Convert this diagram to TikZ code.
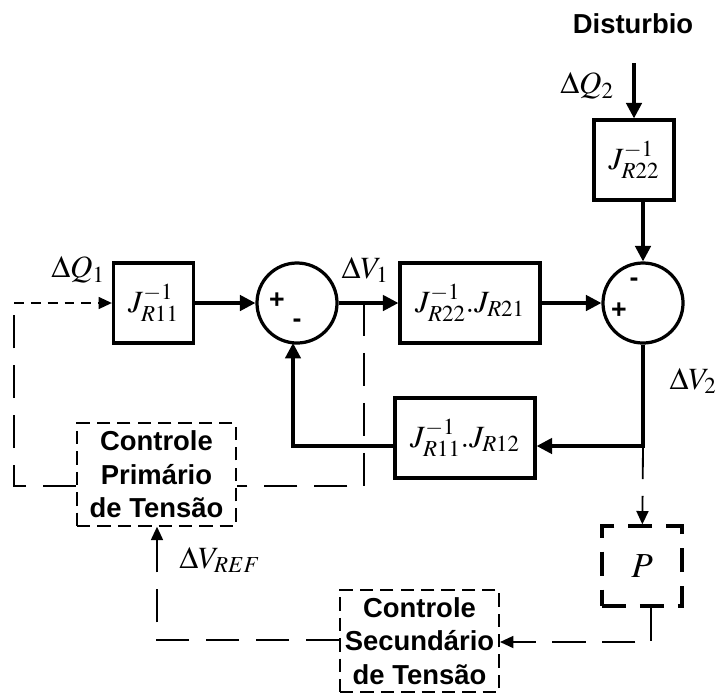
\documentclass[tikz,border=0pt]{standalone}
\usepackage{mathptmx}
\usepackage{fontspec}
\setsansfont{Liberation Sans}
\usetikzlibrary{arrows.meta}
\newcommand{\lblfont}{\fontsize{22}{26}\selectfont}
\newcommand{\pfont}{\fontsize{25}{29}\selectfont}
\newcommand{\ctrlfont}{\fontsize{19.5}{23.8}\selectfont\sffamily\bfseries}
\newcommand{\signfont}{\fontsize{19}{21}\selectfont\sffamily\bfseries}
\tikzset{
  blk/.style={draw, line width=2.3pt, minimum width=2cm, minimum height=2cm, inner sep=0pt, font=\lblfont},
  summ/.style={circle, draw, line width=2.3pt, minimum size=2cm, inner sep=0pt},
  ctrl/.style={draw, line width=1.4pt, dash pattern=on 9.5pt off 5pt, minimum width=3.975cm, minimum height=2.56cm, inner sep=0pt, align=center, font=\ctrlfont},
  pblk/.style={draw, line width=2.3pt, dash pattern=on 17pt off 10pt, minimum size=2cm, inner sep=0pt, font=\pfont},
  lbl/.style={font=\lblfont, inner sep=0pt},
  sign/.style={font=\signfont, inner sep=0pt},
  sig/.style={line width=2.3pt},
  conn/.style={line width=1.3pt, dash pattern=on 23.5pt off 12pt},
  shortconn/.style={line width=1.3pt, dash pattern=on 7pt off 5pt},
  arrow/.style={-{Triangle[length=11pt, width=11pt]}},
  darrow/.style={-{Triangle[length=9.5pt, width=8.5pt]}}
}
\begin{document}
\begin{tikzpicture}[x=0.025cm, y=-0.025cm]
		\useasboundingbox (0,0) rectangle (721,693);
		% blocos
		\node[blk] (j22) at (634,160) {$J_{R22}^{-1}$};
		\node[blk] (j11) at (153.5,303) {$J_{R11}^{-1}$};
		\node[blk, minimum width=3.5cm] (j2221) at (470,303) {$J_{R22}^{-1}.J_{R21}$};
		\node[blk, minimum width=3.5cm] (j1112) at (465,438) {$J_{R11}^{-1}.J_{R12}$};
		\node[summ] (sum1) at (297,303) {};
		\node[summ] (sum2) at (643,303) {};
		\node[pblk] (pbox) at (642,566) {$P$};
		\node[ctrl] (prim) at (156.5,474.5) {Controle\\Primário\\de Tensão};
		\node[ctrl] (sec) at (419.5,641) {Controle\\Secundário\\de Tensão};
		
		% sinais
		\node[sign] (s1p) at (277,301) {+};
		\node[sign] (s1m) at (297,323) {-};
		\node[sign] (s2m) at (634,282) {-};
		\node[sign] (s2p) at (619,311) {+};
		
		% rotulos
		\node[font=\ctrlfont] (dist) at (633,24) {Disturbio};
		\node[lbl] (dq2) at (587,86) {$\Delta Q_2$};
		\node[lbl] (dq1) at (78,270) {$\Delta Q_1$};
		\node[lbl] (dv1) at (365,270) {$\Delta V_1$};
		\node[lbl] (dv2) at (693,381) {$\Delta V_2$};
		\node[lbl, anchor=west] (dvref) at (179,560) {$\Delta V_{REF}$};
		
		% pontos auxiliares
		\coordinate (dtop) at (634,63);
		\coordinate (v1) at (364,303);
		\coordinate (v2) at (643,446);
		\coordinate (pr) at (364,486);
		\coordinate (pl) at (14,486);
		\coordinate (pc) at (651,642);
		\coordinate (rc) at (157,640);
		
		% malha principal
		\draw[sig, arrow] (dtop) -- (j22);
		\draw[sig, arrow] (j22.south -| sum2) -- (sum2);
		\draw[sig, arrow] (j11) -- (sum1);
		\draw[sig, arrow] (sum1) -- (j2221);
		\draw[sig, arrow] (j2221) -- (sum2);
		\draw[sig, arrow] (sum2) -- (v2) -- (v2 -| j1112.east);
		\draw[sig, arrow] (v2 -| j1112.west) -- (v2 -| 293,0) -- (293,343);
		
		% malhas de controle
		\draw[conn, darrow] (v2) -- (pbox);
		\draw[conn, darrow] (pbox.south -| pc) -- (pc) -- (pc -| sec.east);
		\draw[conn, darrow] (rc -| sec.west) -- (rc) -- (prim.south -| rc);
		\draw[conn] (v1) -- (pr) -- (pr -| prim.east);
		\draw[conn] (pl -| prim.west) -- (pl) -- (pl |- j11);
		\draw[shortconn, darrow] (pl |- j11) -- (j11);
	\end{tikzpicture}
\end{document}
